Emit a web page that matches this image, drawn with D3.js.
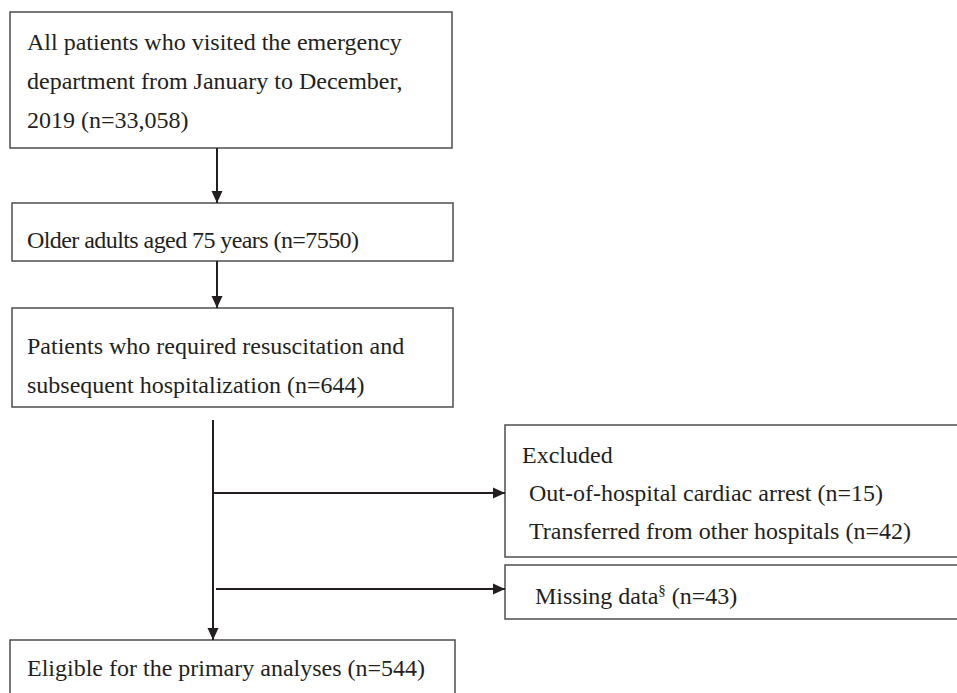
<!DOCTYPE html>
<html>
<head>
  <meta charset="utf-8">
  <title>Flowchart</title>
  <style>
    body { margin: 0; background: #fff; }
    text { font-family: "Liberation Serif", "Times New Roman", serif; fill: #231f20; }
  </style>
</head>
<body>
  <script src="https://d3js.org/d3.v7.min.js"></script>
  <script>
    // step labels and counts
    var steps = [
      ["All patients who visited the emergency", "department from January to December,", "2019"],
      ["Older adults aged 75 years"],
      ["Patients who required resuscitation and", "subsequent hospitalization"],
      ["Eligible for the primary analyses"]
    ];
    var stepCounts = [33058, 7550, 644, 544];

    var exclusionTitle = "Excluded";
    var exclusionLabels = ["Out-of-hospital cardiac arrest", "Transferred from other hospitals"];
    var exclusionCounts = [15, 42];
    var missingLabel = "Missing data";
    var missingCount = 43;

    var width = 957, height = 693;
    var fontSize = 24, lineGap = 39;

    var svg = d3.select("body")
      .append("svg")
      .attr("width", width)
      .attr("height", height);

    svg.append("defs").append("marker")
      .attr("id", "head")
      .attr("viewBox", "0 0 12 12")
      .attr("refX", 12)
      .attr("refY", 6)
      .attr("markerUnits", "userSpaceOnUse")
      .attr("markerWidth", 12)
      .attr("markerHeight", 12)
      .attr("orient", "auto")
      .append("path")
      .attr("d", "M0,0.5 L12,6 L0,11.5 Z")
      .attr("fill", "#231f20");

    function nLabel(n) {
      return "(n=" + (n >= 10000 ? d3.format(",")(n) : n) + ")";
    }

    // layout of boxes (pixels); fit = squeeze the text to this width
    var boxes = [
      { x: 10, y: 12, w: 442, h: 136, tx: 27, ty: 50 },
      { x: 12, y: 203, w: 441, h: 58, tx: 27, ty: 248, fit: 332 },
      { x: 12, y: 308, w: 441, h: 99, tx: 27, ty: 354 },
      { x: 10, y: 640, w: 445, h: 90, tx: 27, ty: 676 }
    ];

    boxes.forEach(function (b, i) {
      svg.append("rect")
        .attr("x", b.x).attr("y", b.y)
        .attr("width", b.w).attr("height", b.h)
        .attr("fill", "none")
        .attr("stroke", "#4d4d4d")
        .attr("stroke-width", 1.5);
      var lines = steps[i].slice();
      lines[lines.length - 1] += " " + nLabel(stepCounts[i]);
      var t = svg.selectAll(null)
        .data(lines)
        .enter()
        .append("text")
        .attr("x", b.tx)
        .attr("y", function (d, j) { return b.ty + j * lineGap; })
        .attr("font-size", fontSize)
        .text(function (d) { return d; });
      if (b.fit) {
        t.attr("textLength", b.fit).attr("lengthAdjust", "spacing");
      }
    });

    // exclusion boxes
    var exBox = { x: 505, y: 425, w: 470, h: 132 };
    var missBox = { x: 505, y: 565, w: 470, h: 54 };
    [exBox, missBox].forEach(function (b) {
      svg.append("rect")
        .attr("x", b.x).attr("y", b.y)
        .attr("width", b.w).attr("height", b.h)
        .attr("fill", "none")
        .attr("stroke", "#4d4d4d")
        .attr("stroke-width", 1.5);
    });

    svg.append("text")
      .attr("x", 522).attr("y", 463)
      .attr("font-size", fontSize)
      .text(exclusionTitle);

    svg.selectAll(null)
      .data(exclusionLabels)
      .enter()
      .append("text")
      .attr("x", 529)
      .attr("y", function (d, i) { return 501 + i * 38; })
      .attr("font-size", fontSize)
      .text(function (d, i) { return d + " " + nLabel(exclusionCounts[i]); });

    var miss = svg.append("text")
      .attr("x", 535).attr("y", 604)
      .attr("font-size", fontSize);
    miss.append("tspan").text(missingLabel);
    miss.append("tspan").attr("font-size", 15).attr("dy", -9).text("§");
    miss.append("tspan").attr("dy", 9).text(" " + nLabel(missingCount));

    // connectors
    var arrows = [
      [[217, 148], [217, 203]],
      [[217, 261], [217, 308]],
      [[213, 420], [213, 640]],
      [[213, 493], [505, 493]],
      [[216, 589], [505, 589]]
    ];
    svg.selectAll(null)
      .data(arrows)
      .enter()
      .append("path")
      .attr("d", function (d) { return d3.line()(d); })
      .attr("fill", "none")
      .attr("stroke", "#231f20")
      .attr("stroke-width", 2)
      .attr("marker-end", "url(#head)");
  </script>
</body>
</html>
